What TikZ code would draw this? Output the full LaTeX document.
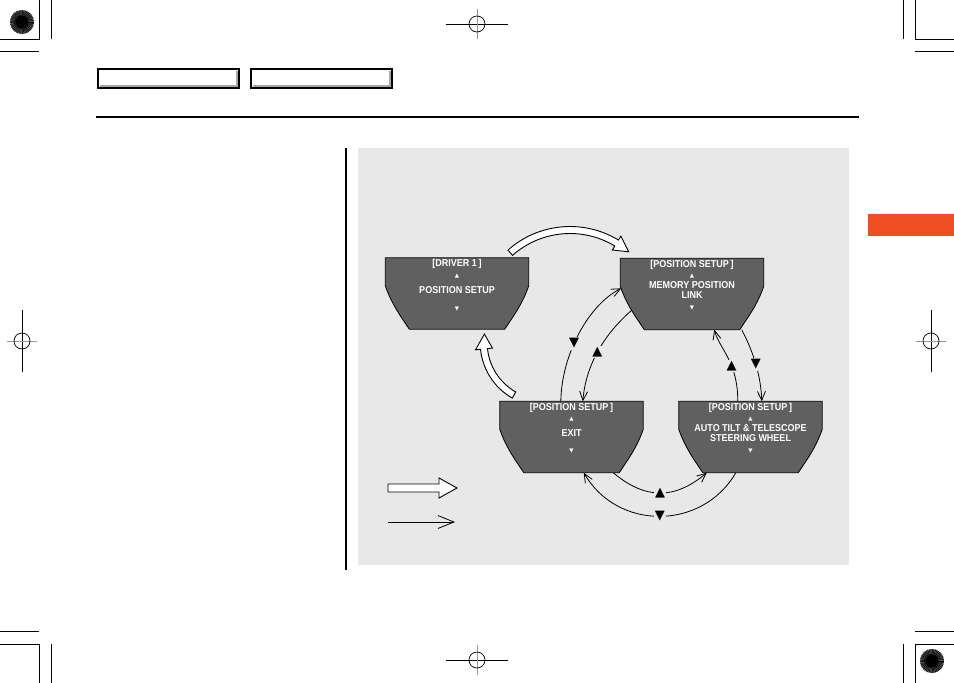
\documentclass[tikz,border=0pt]{standalone}
\usepackage{fontspec}
\usepackage{xcolor}
\usepackage{tikz}
\usetikzlibrary{arrows.meta, positioning, calc}
\newfontfamily\dispfont[FakeStretch=0.9]{Liberation Sans}
\newfontfamily\symfont{DejaVu Sans}
\definecolor{panelgray}{RGB}{232, 232, 232}
\definecolor{screengray}{RGB}{96, 96, 96}
\definecolor{taborange}{RGB}{239, 78, 35}
\definecolor{markgray}{RGB}{150, 150, 150}
\newcommand{\upmark}{{\symfont\fontsize{5.5}{5.5}\selectfont ▲}}
\newcommand{\dnmark}{{\symfont\fontsize{5.5}{5.5}\selectfont ▼}}
\newcommand{\screenshape}[1]{%
  \draw[screenbody] (#1.north west) -- (#1.north east) -- ($(#1.north east)+(0,28)$)
    .. controls +(-6,18) and +(8,-12) .. ($(#1.south east)+(-24,0)$)
    -- ($(#1.south west)+(24,0)$)
    .. controls +(-8,-12) and +(6,18) .. ($(#1.north west)+(0,28)$) -- cycle;}
\newcommand{\regtarget}[1]{%
  \fill[black!65] (#1) circle (12pt);
  \foreach \a in {0,8,...,352} \draw[black, line width=0.5pt] ($(#1)+(\a:6pt)$) -- ($(#1)+(\a:12pt)$);
  \fill[black] (#1) circle (6.5pt);}
\newcommand{\crossmark}[2]{%
  \begin{scope}[shift={(#1)}, rotate=#2]
  \draw[line width=0.7pt] (-31pt,0) -- (31pt,0);
  \draw[markgray, line width=0.7pt] (0,-15pt) -- (0,15pt);
  \draw[line width=0.7pt] (0,0) circle (8pt);
  \end{scope}}

\begin{document}
\begin{tikzpicture}[x=1pt, y=-1pt,
  screenbox/.style={minimum width=143pt, minimum height=71pt, inner sep=0pt},
  screenbody/.style={fill=screengray, draw=black, line width=0.8pt},
  scrtext/.style={anchor=north, inner sep=0pt, text=white, align=center,
    font=\dispfont\bfseries\fontsize{10}{10.5}\selectfont},
  hollow/.style={draw=black, fill=white, line width=0.9pt, line join=miter},
  link/.style={line width=0.8pt, -{Straight Barb[length=9pt, width=8pt]}},
  tri/.style={fill=panelgray, inner sep=1.2pt, font=\symfont\fontsize{13}{13}\selectfont},
  cropline/.style={line width=0.7pt}]
\useasboundingbox (0,0) rectangle (954,683);
\fill[white] (0,0) rectangle (954,683);

\regtarget{22,22}
\regtarget{932,661}
\draw[cropline] (39,0) -- (39,39) -- (0,39);
\draw[cropline] (51,0) -- (51,39);
\draw[cropline] (0,51) -- (39,51);
\draw[cropline] (915,0) -- (915,39) -- (954,39);
\draw[cropline] (903,0) -- (903,39);
\draw[cropline] (915,51) -- (954,51);
\draw[cropline] (0,631) -- (39,631);
\draw[cropline] (0,644) -- (39,644) -- (39,683);
\draw[cropline] (51,644) -- (51,683);
\draw[cropline] (915,631) -- (954,631);
\draw[cropline] (954,644) -- (915,644) -- (915,683);
\draw[cropline] (903,644) -- (903,683);
\crossmark{477,24}{0}
\crossmark{477,660}{0}
\crossmark{22,341}{90}
\crossmark{931,341}{90}

\draw[line width=1.4pt] (98,69) rectangle (239,88);
\draw[black!35, line width=2pt] (237,70.5) -- (237,86.3) -- (99.5,86.3);
\draw[line width=1.4pt] (251,69) rectangle (392,88);
\draw[black!35, line width=2pt] (390,70.5) -- (390,86.3) -- (252.5,86.3);
\draw[line width=1.2pt] (96,117) -- (859,117);
\draw[line width=1.6pt] (346,148) -- (346,570);
\fill[taborange] (868,214) rectangle (954,236);
\fill[panelgray] (358,148) rectangle (849,565);

\node[screenbox] (driver) at (457,293.5) {};
\node[screenbox] (memory) at (692,294) {};
\node[screenbox] (exitscr) at (571.5,437) {};
\node[screenbox] (tilt) at (750.5,437) {};

\draw[link] ($(exitscr.north west)+(61,0)$) to[out=89, in=207, out distance=47pt, in distance=37pt]
  node[tri, pos=0.42] {▼} ($(memory.north west)+(1,30)$);
\draw[link] ($(memory.south west)+(12,-20)$) to[out=221, in=85, out distance=40pt, in distance=35pt]
  node[tri, pos=0.5] {▲} ($(exitscr.north west)+(83,0)$);
\draw[link] ($(tilt.north west)+(59,0)$) to[out=90, in=285, out distance=40pt, in distance=20pt]
  node[tri, pos=0.38] {▲} ($(memory.south west)+(94,0)$);
\draw[link] ($(memory.south east)+(-22,0)$) to[out=298, in=92, out distance=25pt, in distance=25pt]
  node[tri, pos=0.5] {▼} ($(tilt.north west)+(83,0)$);
\draw[link] ($(exitscr.south east)+(-30,0)$) to[out=320, in=220, out distance=42pt, in distance=42pt]
  node[tri, pos=0.5] {▲} ($(tilt.south west)+(28,0)$);
\draw[link] ($(tilt.south west)+(57,0)$) to[out=240, in=300, out distance=67pt, in distance=67pt]
  node[tri, pos=0.5] {▼} ($(exitscr.south west)+(84,0)$);

\screenshape{driver}
\screenshape{memory}
\screenshape{exitscr}
\screenshape{tilt}
\node[scrtext] (driver-t) at ([yshift=-1.5pt]driver.north)
  {[DRIVER 1\,]\\ \upmark\\[5.5pt] POSITION SETUP\\[6.5pt] \dnmark};
\node[scrtext] (memory-t) at ([yshift=-1.5pt]memory.north)
  {[POSITION SETUP\,]\\ \upmark\\ MEMORY POSITION\\ LINK\\ \dnmark};
\node[scrtext] (exitscr-t) at ([yshift=-1.5pt]exitscr.north)
  {[POSITION SETUP\,]\\ \upmark\\[5.5pt] EXIT\\[5.5pt] \dnmark};
\node[scrtext] (tilt-t) at ([yshift=-1.5pt]tilt.north)
  {[POSITION SETUP\,]\\ \upmark\\ AUTO TILT \& TELESCOPE\\ STEERING WHEEL\\ \dnmark};

\coordinate (c1) at (570,320);
\draw[hollow] ($(c1)+(131.6:93.5pt)$) arc[start angle=131.6, end angle=58.8, radius=93.5pt]
  -- ($(c1)+(58.8:98.2pt)$) -- ($(c1)+(49.3:90pt)$) -- ($(c1)+(58.8:81.8pt)$)
  -- ($(c1)+(58.8:86.5pt)$) arc[start angle=58.8, end angle=131.6, radius=86.5pt] -- cycle;
\coordinate (c2) at (543.7,342.9);
\draw[hollow] ($(c2)+(240.3:63.5pt)$) arc[start angle=240.3, end angle=185.8, radius=63.5pt]
  -- ($(c2)+(185.8:68.5pt)$) -- ($(c2)+(171.5:60pt)$) -- ($(c2)+(185.8:51.5pt)$)
  -- ($(c2)+(185.8:56.5pt)$) arc[start angle=185.8, end angle=240.3, radius=56.5pt] -- cycle;

\draw[hollow] (388,484) -- (439,484) -- (439,478) -- (457,488) -- (439,498) -- (439,492) -- (388,492) -- cycle;
\coordinate (leg-a) at (388,522);
\coordinate (leg-b) at (455,522);
\draw[line width=0.8pt, -{Straight Barb[length=16pt, width=13pt]}] (leg-a) -- (leg-b);
\end{tikzpicture}
\end{document}
